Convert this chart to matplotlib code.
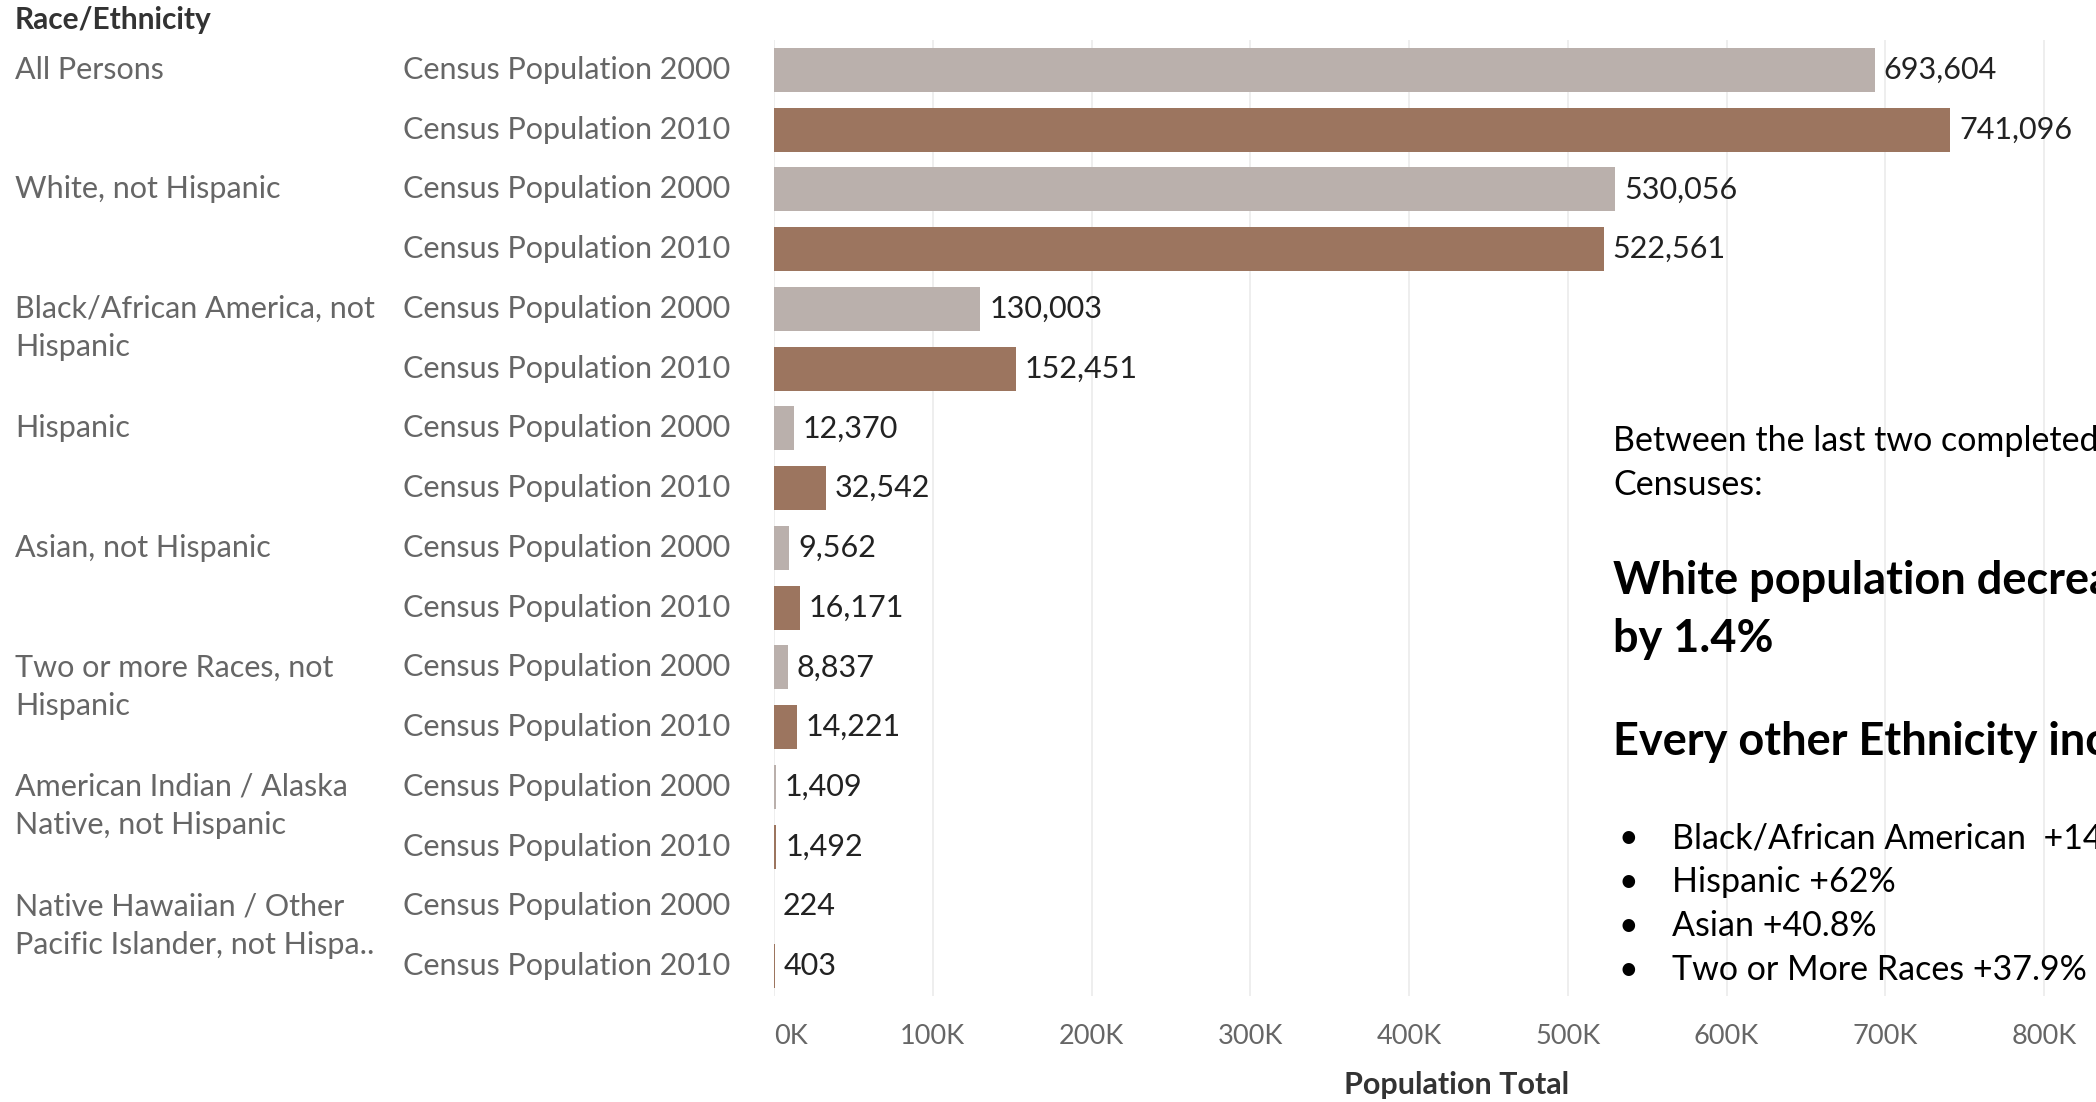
import matplotlib
matplotlib.use("Agg")
import matplotlib.pyplot as plt
from matplotlib.transforms import blended_transform_factory

# Population by race/ethnicity, two census years
groups = [
    "All Persons",
    "White, not Hispanic",
    "Black/African America, not\nHispanic",
    "Hispanic",
    "Asian, not Hispanic",
    "Two or more Races, not\nHispanic",
    "American Indian / Alaska\nNative, not Hispanic",
    "Native Hawaiian / Other\nPacific Islander, not Hispa..",
]
series_names = ["Census Population 2000", "Census Population 2010"]
pop_2000 = [693604, 530056, 130003, 12370, 9562, 8837, 1409, 224]
pop_2010 = [741096, 522561, 152451, 32542, 16171, 14221, 1492, 403]
x_ticks = [0, 100000, 200000, 300000, 400000, 500000, 600000, 700000, 800000]
x_tick_labels = ["0K", "100K", "200K", "300K", "400K", "500K", "600K", "700K", "800K"]

FONT = "Lato"
C2000 = "#BAB0AC"
C2010 = "#9C755F"
GRAY = "#666666"
LBL = 22

W, H = 2096, 1102
fig = plt.figure(figsize=(W / 100, H / 100), dpi=100)
fig.patch.set_facecolor("white")

ax_left = 774 / W
ax_bottom = 1 - 996 / H
ax_top = 1 - 40 / H
ax = fig.add_axes([ax_left, ax_bottom, 1 - ax_left, ax_top - ax_bottom])

px_per_unit = (2044 - 774) / 800000
xmax = (W - 774) / px_per_unit
ax.set_xlim(0, xmax)
n_rows = 2 * len(groups)
ax.set_ylim(n_rows - 0.5, -0.5)

bar_h = 0.74
for i in range(len(groups)):
    for j, (vals, col) in enumerate(((pop_2000, C2000), (pop_2010, C2010))):
        y = 2 * i + j
        v = vals[i]
        ax.barh(y, v, height=bar_h, color=col, edgecolor="none", zorder=2)
        ax.text(v + 5500, y, f"{v:,}", va="center", ha="left",
                fontsize=LBL, color="#222222", family=FONT, zorder=3)

# axis styling
for s in ax.spines.values():
    s.set_visible(False)
ax.set_xticks(x_ticks)
ax.set_xticklabels(x_tick_labels)
ax.set_yticks([])
ax.tick_params(axis="x", length=0, pad=20, labelsize=19.5, labelcolor=GRAY)
for lbl in ax.get_xticklabels():
    lbl.set_family(FONT)
ax.get_xticklabels()[0].set_ha("left")
ax.grid(axis="x", color="#EBEBEB", linewidth=1.2, zorder=0)
ax.set_axisbelow(True)

fig.text(1457 / W, 1 - 1085 / H, "Population Total", ha="center", va="center",
         fontsize=22, fontweight="bold", color="#333333", family=FONT)

# row headers
tr = blended_transform_factory(fig.transFigure, ax.transData)
line_gap = 38.5 / ((996 - 40) / n_rows)
for i, g in enumerate(groups):
    for k, line in enumerate(g.split("\n")):
        fig.text(15 / W, 2 * i + k * line_gap, line, transform=tr, ha="left",
                 va="center", fontsize=LBL, color=GRAY, family=FONT)
    for j, name in enumerate(series_names):
        fig.text(730 / W, 2 * i + j, name, transform=tr, ha="right",
                 va="center", fontsize=LBL, color=GRAY, family=FONT)

fig.text(15 / W, 1 - 20 / H, "Race/Ethnicity", ha="left", va="center",
         fontsize=21.5, fontweight="bold", color="#333333", family=FONT)

# annotation panel
tx = 1613 / W
REG, BIG = 24.5, 32.5
fig.text(tx, 1 - 441 / H, "Between the last two completed", ha="left", va="center",
         fontsize=REG, color="black", family=FONT)
fig.text(tx, 1 - 485 / H, "Censuses:", ha="left", va="center",
         fontsize=REG, color="black", family=FONT)
fig.text(tx, 1 - 581 / H, "White population decreased", ha="left", va="center",
         fontsize=BIG, fontweight="bold", color="black", family=FONT)
fig.text(tx, 1 - 639 / H, "by 1.4%", ha="left", va="center",
         fontsize=BIG, fontweight="bold", color="black", family=FONT)
fig.text(tx, 1 - 742 / H, "Every other Ethnicity increased", ha="left", va="center",
         fontsize=BIG, fontweight="bold", color="black", family=FONT)
bullets = ["Black/African American  +14%", "Hispanic +62%", "Asian +40.8%",
           "Two or More Races +37.9%"]
for k, b in enumerate(bullets):
    yy = 1 - (838 + 44 * k) / H
    fig.text(1619 / W, yy, "\u2022", ha="left", va="center", fontsize=REG,
             color="black", family=FONT)
    fig.text(1672 / W, yy, b, ha="left", va="center", fontsize=REG,
             color="black", family=FONT)

fig.savefig("out.png", dpi=100, facecolor="white")
